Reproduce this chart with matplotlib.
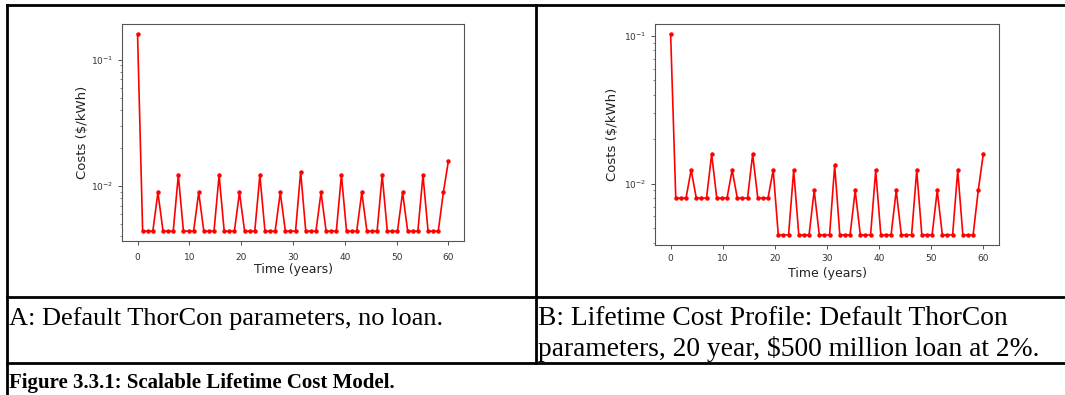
import numpy as np
import matplotlib
matplotlib.use("Agg")
import matplotlib.pyplot as plt
from matplotlib.lines import Line2D

# year grid: 62 evenly spaced points from 0 to 60
years = np.linspace(0, 60, 62)

# A: default ThorCon parameters, no loan
cost_noloan = [0.160,
               0.0044, 0.0044, 0.0044, 0.0089, 0.0044, 0.0044, 0.0044, 0.0122,
               0.0044, 0.0044, 0.0044, 0.0089, 0.0044, 0.0044, 0.0044, 0.0122,
               0.0044, 0.0044, 0.0044, 0.0089, 0.0044, 0.0044, 0.0044, 0.0122,
               0.0044, 0.0044, 0.0044, 0.0089, 0.0044, 0.0044, 0.0044, 0.0130,
               0.0044, 0.0044, 0.0044, 0.0089, 0.0044, 0.0044, 0.0044, 0.0122,
               0.0044, 0.0044, 0.0044, 0.0089, 0.0044, 0.0044, 0.0044, 0.0122,
               0.0044, 0.0044, 0.0044, 0.0089, 0.0044, 0.0044, 0.0044, 0.0122,
               0.0044, 0.0044, 0.0044, 0.0089, 0.0159]

# B: 20 year, $500 million loan at 2%
cost_loan = [0.103,
             0.0080, 0.0080, 0.0080, 0.0124, 0.0080, 0.0080, 0.0080, 0.0158,
             0.0080, 0.0080, 0.0080, 0.0124, 0.0080, 0.0080, 0.0080, 0.0158,
             0.0080, 0.0080, 0.0080, 0.0124, 0.0045, 0.0045, 0.0045, 0.0123,
             0.0045, 0.0045, 0.0045, 0.0090, 0.0045, 0.0045, 0.0045, 0.0133,
             0.0045, 0.0045, 0.0045, 0.0090, 0.0045, 0.0045, 0.0045, 0.0123,
             0.0045, 0.0045, 0.0045, 0.0090, 0.0045, 0.0045, 0.0045, 0.0123,
             0.0045, 0.0045, 0.0045, 0.0090, 0.0045, 0.0045, 0.0045, 0.0123,
             0.0045, 0.0045, 0.0045, 0.0090, 0.0160]

caption_a = "A: Default ThorCon parameters, no loan."
caption_b1 = "B: Lifetime Cost Profile: Default ThorCon"
caption_b2 = "parameters, 20 year, $500 million loan at 2%."
fig_caption = "Figure 3.3.1: Scalable Lifetime Cost Model."

W, H = 1065, 395
fig = plt.figure(figsize=(W / 100, H / 100), dpi=100)


def px_rect(l, t, r, b):
    return [l / W, 1 - b / H, (r - l) / W, (b - t) / H]


def draw_panel(rect, costs, xpad, xlabpad, ylabpad):
    ax = fig.add_axes(px_rect(*rect))
    ax.plot(years, costs, color="#ff0000", marker="o", markersize=2.2, linewidth=1.2)
    ax.set_yscale("log")
    ax.set_xticks([0, 10, 20, 30, 40, 50, 60])
    ax.tick_params(labelsize=6.5, colors="#333333", length=3, width=0.6)
    ax.tick_params(axis="x", pad=xpad)
    ax.tick_params(which="minor", length=1.8, width=0.5, colors="#555555")
    for s in ax.spines.values():
        s.set_color("#555555")
        s.set_linewidth(0.8)
    ax.set_xlabel("Time (years)", fontsize=9, color="#222222", labelpad=xlabpad)
    ax.set_ylabel("Costs ($/kWh)", fontsize=9.5, color="#222222", labelpad=ylabpad)
    return ax


draw_panel((122, 24, 464, 241), cost_noloan, 6, 0, 1)
draw_panel((655, 24, 999, 245), cost_loan, 3.5, 2.5, 3)

# table borders
def hline(y, x0=7, x1=W):
    fig.add_artist(Line2D([x0 / W, x1 / W], [1 - y / H, 1 - y / H], color="black", linewidth=2))


def vline(x, y0, y1):
    fig.add_artist(Line2D([x / W, x / W], [1 - y0 / H, 1 - y1 / H], color="black", linewidth=2))


hline(5)
hline(297)
hline(363)
vline(7, 5, H)
vline(536, 5, 363)

serif = ["Liberation Serif", "DejaVu Serif"]
fig.text(9 / W, 1 - 325 / H, caption_a, family=serif, fontsize=19, va="baseline")
fig.text(538 / W, 1 - 325 / H, caption_b1, family=serif, fontsize=19.8, va="baseline")
fig.text(538 / W, 1 - 356 / H, caption_b2, family=serif, fontsize=19.8, va="baseline")
fig.text(9 / W, 1 - 388 / H, fig_caption, family=serif, fontsize=15, weight="bold", va="baseline")

fig.savefig("out.png", dpi=100)
